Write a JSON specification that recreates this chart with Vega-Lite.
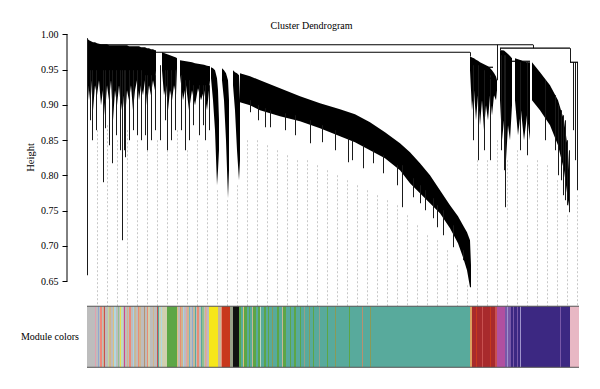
{
  "$schema": "https://vega.github.io/schema/vega-lite/v6.json",
  "width": 531,
  "height": 343,
  "autosize": {"type": "none"},
  "padding": {"left": 67, "top": 30, "right": 2, "bottom": 16},
  "background": "white",
  "config": {"view": {"stroke": null}},
  "title": {"text": "Cluster Dendrogram", "font": "Liberation Serif", "fontSize": 10, "fontWeight": "normal", "color": "black", "anchor": "middle", "dx": -21, "offset": -2},
  "datasets": {
    "guides": [
      {"x":10.5,"top":0.8640},{"x":20.5,"top":0.8711},{"x":30.5,"top":0.8498},{"x":40.5,"top":0.8640},{"x":50.5,"top":0.8498},
      {"x":60.5,"top":0.8356},{"x":70.5,"top":0.8498},{"x":80.5,"top":0.8356},{"x":90.5,"top":0.8640},{"x":100.5,"top":0.8356},
      {"x":110.5,"top":0.8498},{"x":120.5,"top":0.8356},{"x":130.5,"top":0.7789},{"x":140.5,"top":0.7648},{"x":150.5,"top":0.7860},
      {"x":160.5,"top":0.8498},{"x":170.5,"top":0.8498},{"x":180.5,"top":0.8427},{"x":190.5,"top":0.8356},{"x":200.5,"top":0.8285},
      {"x":210.5,"top":0.8215},{"x":220.5,"top":0.8215},{"x":230.5,"top":0.8144},{"x":240.5,"top":0.8073},{"x":250.5,"top":0.8002},
      {"x":260.5,"top":0.7931},{"x":270.5,"top":0.7860},{"x":280.5,"top":0.7789},{"x":290.5,"top":0.7719},{"x":300.5,"top":0.7648},
      {"x":310.5,"top":0.7577},{"x":320.5,"top":0.7435},{"x":330.5,"top":0.7293},{"x":340.5,"top":0.7152},{"x":350.5,"top":0.7081},
      {"x":360.5,"top":0.6939},{"x":370.5,"top":0.6727},{"x":380.5,"top":0.6443},{"x":390.5,"top":0.8215},{"x":400.5,"top":0.8215},
      {"x":410.5,"top":0.8498},{"x":420.5,"top":0.8215},{"x":430.5,"top":0.8356},{"x":440.5,"top":0.8144},{"x":450.5,"top":0.8215},
      {"x":460.5,"top":0.8144},{"x":470.5,"top":0.7931},{"x":480.5,"top":0.7435},{"x":490.5,"top":0.7719}
    ],
    "modules": [
      {"x":0,"x2":8,"module":"grey"},{"x":8,"x2":9,"module":"lightpink"},{"x":9,"x2":11,"module":"grey"},{"x":11,"x2":12,"module":"steelblue"},
      {"x":12,"x2":13,"module":"grey"},{"x":13,"x2":15,"module":"salmon"},{"x":15,"x2":16,"module":"grey"},{"x":16,"x2":17,"module":"tan"},
      {"x":17,"x2":18,"module":"indianred"},{"x":18,"x2":21,"module":"grey"},{"x":21,"x2":22,"module":"lightgreen"},{"x":22,"x2":24,"module":"tan"},
      {"x":24,"x2":26,"module":"grey"},{"x":26,"x2":27,"module":"burlywood"},{"x":27,"x2":29,"module":"lightcyan"},{"x":29,"x2":31,"module":"grey"},
      {"x":31,"x2":32,"module":"darkseagreen"},{"x":32,"x2":33,"module":"grey"},{"x":33,"x2":34,"module":"greenyellow"},{"x":34,"x2":36,"module":"honeydew"},
      {"x":36,"x2":37,"module":"grey"},{"x":37,"x2":38,"module":"violet"},{"x":38,"x2":40,"module":"grey"},{"x":40,"x2":41,"module":"tan"},
      {"x":41,"x2":42,"module":"grey"},{"x":42,"x2":44,"module":"salmon"},{"x":44,"x2":46,"module":"grey"},{"x":46,"x2":47,"module":"lightblue"},
      {"x":47,"x2":49,"module":"khaki"},{"x":49,"x2":51,"module":"grey"},{"x":51,"x2":52,"module":"coral"},{"x":52,"x2":54,"module":"tan"},
      {"x":54,"x2":57,"module":"grey"},{"x":57,"x2":58,"module":"sienna"},{"x":58,"x2":60,"module":"grey"},{"x":60,"x2":61,"module":"coral"},
      {"x":61,"x2":63,"module":"ivory"},{"x":63,"x2":66,"module":"grey"},{"x":66,"x2":67,"module":"tan"},{"x":67,"x2":70,"module":"grey"},
      {"x":70,"x2":71,"module":"indianred"},{"x":71,"x2":72,"module":"turquoise"},{"x":72,"x2":74,"module":"ivory"},{"x":74,"x2":75,"module":"lightcyan"},
      {"x":75,"x2":80,"module":"ivory"},{"x":80,"x2":90,"module":"green"},{"x":90,"x2":91,"module":"burlywood"},{"x":91,"x2":93,"module":"grey"},
      {"x":93,"x2":94,"module":"coral"},{"x":94,"x2":96,"module":"tan"},{"x":96,"x2":97,"module":"lightblue"},{"x":97,"x2":99,"module":"grey"},
      {"x":99,"x2":100,"module":"lightpink"},{"x":100,"x2":102,"module":"tan"},{"x":102,"x2":103,"module":"skyblue"},{"x":103,"x2":105,"module":"grey"},
      {"x":105,"x2":106,"module":"steelblue"},{"x":106,"x2":108,"module":"khaki"},{"x":108,"x2":109,"module":"turquoise"},{"x":109,"x2":110,"module":"grey"},
      {"x":110,"x2":112,"module":"coral"},{"x":112,"x2":114,"module":"grey"},{"x":114,"x2":115,"module":"turquoise"},{"x":115,"x2":117,"module":"darkseagreen"},
      {"x":117,"x2":118,"module":"grey"},{"x":118,"x2":119,"module":"tan"},{"x":119,"x2":120,"module":"lightpink"},{"x":120,"x2":122,"module":"grey"},
      {"x":122,"x2":131,"module":"yellow"},{"x":131,"x2":134,"module":"khaki"},{"x":134,"x2":135,"module":"coral"},{"x":135,"x2":143,"module":"red"},
      {"x":143,"x2":146,"module":"grey60"},{"x":146,"x2":152,"module":"black"},{"x":152,"x2":154,"module":"green"},{"x":154,"x2":156,"module":"turquoise"},
      {"x":156,"x2":157,"module":"burlywood"},{"x":157,"x2":160,"module":"green"},{"x":160,"x2":162,"module":"turquoise"},{"x":162,"x2":163,"module":"green"},
      {"x":163,"x2":165,"module":"turquoise"},{"x":165,"x2":166,"module":"khaki"},{"x":166,"x2":169,"module":"green"},{"x":169,"x2":171,"module":"turquoise"},
      {"x":171,"x2":173,"module":"green"},{"x":173,"x2":174,"module":"honeydew"},{"x":174,"x2":177,"module":"turquoise"},{"x":177,"x2":179,"module":"green"},
      {"x":179,"x2":181,"module":"turquoise"},{"x":181,"x2":182,"module":"green"},{"x":182,"x2":185,"module":"turquoise"},{"x":185,"x2":186,"module":"olive"},
      {"x":186,"x2":190,"module":"turquoise"},{"x":190,"x2":192,"module":"green"},{"x":192,"x2":195,"module":"turquoise"},{"x":195,"x2":196,"module":"khaki"},
      {"x":196,"x2":199,"module":"green"},{"x":199,"x2":203,"module":"turquoise"},{"x":203,"x2":204,"module":"green"},{"x":204,"x2":207,"module":"turquoise"},
      {"x":207,"x2":209,"module":"green"},{"x":209,"x2":213,"module":"turquoise"},{"x":213,"x2":214,"module":"green"},{"x":214,"x2":217,"module":"turquoise"},
      {"x":217,"x2":218,"module":"grey60"},{"x":218,"x2":222,"module":"turquoise"},{"x":222,"x2":223,"module":"olive"},{"x":223,"x2":226,"module":"turquoise"},
      {"x":226,"x2":227,"module":"green"},{"x":227,"x2":232,"module":"turquoise"},{"x":232,"x2":233,"module":"grey60"},{"x":233,"x2":240,"module":"turquoise"},
      {"x":240,"x2":241,"module":"green"},{"x":241,"x2":248,"module":"turquoise"},{"x":248,"x2":249,"module":"olive"},{"x":249,"x2":262,"module":"turquoise"},
      {"x":262,"x2":263,"module":"green"},{"x":263,"x2":275,"module":"turquoise"},{"x":275,"x2":276,"module":"sienna"},{"x":276,"x2":283,"module":"turquoise"},
      {"x":283,"x2":284,"module":"olive"},{"x":284,"x2":383,"module":"turquoise"},{"x":383,"x2":385,"module":"orange"},{"x":385,"x2":389,"module":"brown"},
      {"x":389,"x2":390,"module":"red"},{"x":390,"x2":395,"module":"brown"},{"x":395,"x2":396,"module":"indianred"},{"x":396,"x2":403,"module":"brown"},
      {"x":403,"x2":404,"module":"red"},{"x":404,"x2":408,"module":"brown"},{"x":408,"x2":410,"module":"indianred"},{"x":410,"x2":418,"module":"magenta"},
      {"x":418,"x2":420,"module":"purple"},{"x":420,"x2":421,"module":"mediumpurple"},{"x":421,"x2":424,"module":"purple"},{"x":424,"x2":426,"module":"blue"},
      {"x":426,"x2":427,"module":"purple"},{"x":427,"x2":430,"module":"blue"},{"x":430,"x2":431,"module":"purple"},{"x":431,"x2":433,"module":"blue"},
      {"x":433,"x2":434,"module":"mediumpurple"},{"x":434,"x2":473,"module":"blue"},{"x":473,"x2":474,"module":"purple"},{"x":474,"x2":483,"module":"blue"},
      {"x":483,"x2":492,"module":"pink"}
    ],
    "edges": [
      {"x":0,"x2":492,"y":0.6146},{"x":0,"x2":492,"y":0.5281}
    ],
    "blobs": [
      {"blob":"A","x":0,"top":0.9943,"bottom":0.9490},{"blob":"A","x":2,"top":0.9915,"bottom":0.9065},{"blob":"A","x":4,"top":0.9901,"bottom":0.9348},
      {"blob":"A","x":6,"top":0.9887,"bottom":0.8923},{"blob":"A","x":8,"top":0.9887,"bottom":0.9277},{"blob":"A","x":10,"top":0.9872,"bottom":0.9136},
      {"blob":"A","x":12,"top":0.9865,"bottom":0.9348},{"blob":"A","x":14,"top":0.9858,"bottom":0.8994},{"blob":"A","x":16,"top":0.9858,"bottom":0.9207},
      {"blob":"A","x":18,"top":0.9858,"bottom":0.8852},{"blob":"A","x":20,"top":0.9858,"bottom":0.9277},{"blob":"A","x":22,"top":0.9844,"bottom":0.9065},
      {"blob":"A","x":24,"top":0.9844,"bottom":0.9348},{"blob":"A","x":26,"top":0.9844,"bottom":0.8781},{"blob":"A","x":28,"top":0.9844,"bottom":0.9207},
      {"blob":"A","x":30,"top":0.9844,"bottom":0.8994},{"blob":"A","x":32,"top":0.9844,"bottom":0.9277},{"blob":"A","x":34,"top":0.9844,"bottom":0.8923},
      {"blob":"A","x":36,"top":0.9844,"bottom":0.9136},{"blob":"A","x":38,"top":0.9844,"bottom":0.8781},{"blob":"A","x":40,"top":0.9844,"bottom":0.9207},
      {"blob":"A","x":42,"top":0.9830,"bottom":0.9065},{"blob":"A","x":44,"top":0.9830,"bottom":0.9277},{"blob":"A","x":46,"top":0.9830,"bottom":0.8923},
      {"blob":"A","x":48,"top":0.9830,"bottom":0.9207},{"blob":"A","x":50,"top":0.9830,"bottom":0.9348},{"blob":"A","x":52,"top":0.9830,"bottom":0.9065},
      {"blob":"A","x":54,"top":0.9816,"bottom":0.9277},{"blob":"A","x":56,"top":0.9816,"bottom":0.9136},{"blob":"A","x":58,"top":0.9816,"bottom":0.9348},
      {"blob":"A","x":60,"top":0.9802,"bottom":0.8994},{"blob":"A","x":62,"top":0.9802,"bottom":0.9277},{"blob":"A","x":64,"top":0.9788,"bottom":0.9136},
      {"blob":"A","x":66,"top":0.9788,"bottom":0.9348},{"blob":"A","x":68,"top":0.9773,"bottom":0.9207},{"blob":"A","x":69,"top":0.9773,"bottom":0.9490},
      {"blob":"B","x":75,"top":0.9745,"bottom":0.9490},{"blob":"B","x":77,"top":0.9735,"bottom":0.9136},{"blob":"B","x":79,"top":0.9725,"bottom":0.9277},
      {"blob":"B","x":81,"top":0.9714,"bottom":0.8923},{"blob":"B","x":83,"top":0.9702,"bottom":0.9207},{"blob":"B","x":85,"top":0.9690,"bottom":0.9065},
      {"blob":"B","x":87,"top":0.9680,"bottom":0.9277},{"blob":"B","x":89,"top":0.9670,"bottom":0.9136},{"blob":"B","x":90,"top":0.9660,"bottom":0.9518},
      {"blob":"C","x":93,"top":0.9632,"bottom":0.9419},{"blob":"C","x":96,"top":0.9625,"bottom":0.9065},{"blob":"C","x":99,"top":0.9617,"bottom":0.9277},
      {"blob":"C","x":102,"top":0.9610,"bottom":0.8923},{"blob":"C","x":105,"top":0.9603,"bottom":0.9207},{"blob":"C","x":108,"top":0.9589,"bottom":0.8994},
      {"blob":"C","x":111,"top":0.9582,"bottom":0.9235},{"blob":"C","x":114,"top":0.9575,"bottom":0.9065},{"blob":"C","x":117,"top":0.9568,"bottom":0.9207},
      {"blob":"C","x":120,"top":0.9554,"bottom":0.8923},{"blob":"C","x":123,"top":0.9547,"bottom":0.9348},
      {"blob":"F1","x":124,"top":0.9532,"bottom":0.9377},{"blob":"F1","x":126,"top":0.9518,"bottom":0.9065},{"blob":"F1","x":128,"top":0.9490,"bottom":0.8640},
      {"blob":"F1","x":130,"top":0.9377,"bottom":0.7860},{"blob":"F1","x":131,"top":0.9207,"bottom":0.8073},{"blob":"F1","x":132,"top":0.8781,"bottom":0.8356},
      {"blob":"F2","x":135,"top":0.9518,"bottom":0.9348},{"blob":"F2","x":137,"top":0.9490,"bottom":0.9065},{"blob":"F2","x":139,"top":0.9447,"bottom":0.8498},
      {"blob":"F2","x":141,"top":0.9348,"bottom":0.7676},{"blob":"F2","x":142,"top":0.9065,"bottom":0.8073},
      {"blob":"F3","x":146,"top":0.9490,"bottom":0.9277},{"blob":"F3","x":148,"top":0.9462,"bottom":0.8923},{"blob":"F3","x":150,"top":0.9447,"bottom":0.8356},
      {"blob":"F3","x":152,"top":0.9419,"bottom":0.7931},{"blob":"F3","x":153,"top":0.9065,"bottom":0.8215},
      {"blob":"D","x":153,"top":0.9447,"bottom":0.9036},{"blob":"D","x":163,"top":0.9405,"bottom":0.8994},{"blob":"D","x":173,"top":0.9348,"bottom":0.8923},
      {"blob":"D","x":193,"top":0.9235,"bottom":0.8838},{"blob":"D","x":213,"top":0.9122,"bottom":0.8767},{"blob":"D","x":233,"top":0.9022,"bottom":0.8668},
      {"blob":"D","x":253,"top":0.8937,"bottom":0.8555},{"blob":"D","x":268,"top":0.8866,"bottom":0.8470},{"blob":"D","x":283,"top":0.8753,"bottom":0.8356},
      {"blob":"D","x":298,"top":0.8611,"bottom":0.8243},{"blob":"D","x":313,"top":0.8455,"bottom":0.8073},{"blob":"D","x":323,"top":0.8328,"bottom":0.7889},
      {"blob":"D","x":333,"top":0.8172,"bottom":0.7747},{"blob":"D","x":343,"top":0.8002,"bottom":0.7605},{"blob":"D","x":353,"top":0.7789,"bottom":0.7464},
      {"blob":"D","x":363,"top":0.7577,"bottom":0.7251},{"blob":"D","x":371,"top":0.7421,"bottom":0.7038},{"blob":"D","x":376,"top":0.7293,"bottom":0.6840},
      {"blob":"D","x":380,"top":0.7194,"bottom":0.6656},{"blob":"D","x":383,"top":0.7081,"bottom":0.6415},{"blob":"D","x":384,"top":0.6727,"bottom":0.6415},
      {"blob":"E","x":383,"top":0.9688,"bottom":0.9490},{"blob":"E","x":385,"top":0.9670,"bottom":0.8923},{"blob":"E","x":387,"top":0.9660,"bottom":0.9207},
      {"blob":"E","x":389,"top":0.9640,"bottom":0.8781},{"blob":"E","x":391,"top":0.9625,"bottom":0.9136},{"blob":"E","x":393,"top":0.9603,"bottom":0.8711},
      {"blob":"E","x":395,"top":0.9590,"bottom":0.9065},{"blob":"E","x":397,"top":0.9575,"bottom":0.8640},{"blob":"E","x":399,"top":0.9560,"bottom":0.8994},
      {"blob":"E","x":401,"top":0.9547,"bottom":0.8781},{"blob":"E","x":403,"top":0.9520,"bottom":0.9136},{"blob":"E","x":405,"top":0.9490,"bottom":0.8852},
      {"blob":"E","x":407,"top":0.9450,"bottom":0.9136},{"blob":"E","x":409,"top":0.9400,"bottom":0.9065},{"blob":"E","x":410,"top":0.9348,"bottom":0.9207},
      {"blob":"G1","x":413,"top":0.9773,"bottom":0.9065},{"blob":"G1","x":415,"top":0.9773,"bottom":0.8498},{"blob":"G1","x":417,"top":0.9770,"bottom":0.8781},
      {"blob":"G1","x":419,"top":0.9745,"bottom":0.8215},{"blob":"G1","x":421,"top":0.9720,"bottom":0.8711},{"blob":"G1","x":423,"top":0.9690,"bottom":0.8498},
      {"blob":"G1","x":425,"top":0.9660,"bottom":0.8994},
      {"blob":"G2","x":428,"top":0.9660,"bottom":0.9065},{"blob":"G2","x":431,"top":0.9645,"bottom":0.8569},{"blob":"G2","x":434,"top":0.9630,"bottom":0.8923},
      {"blob":"G2","x":437,"top":0.9610,"bottom":0.8498},{"blob":"G2","x":440,"top":0.9603,"bottom":0.8852},{"blob":"G2","x":443,"top":0.9603,"bottom":0.8498},
      {"blob":"G3","x":445,"top":0.9603,"bottom":0.9065},{"blob":"G3","x":453,"top":0.9462,"bottom":0.8923},{"blob":"G3","x":463,"top":0.9277,"bottom":0.8711},
      {"blob":"G3","x":471,"top":0.9065,"bottom":0.8427},{"blob":"G3","x":477,"top":0.8781,"bottom":0.8073},{"blob":"G3","x":481,"top":0.8356,"bottom":0.7648},
      {"blob":"G3","x":483,"top":0.7789,"bottom":0.7478}
    ],
    "stems": [
      {"x":0.5,"top":0.9943,"bottom":0.6585},{"x":3.5,"top":0.9490,"bottom":0.8781},{"x":5.5,"top":0.9490,"bottom":0.8498},{"x":9.5,"top":0.9490,"bottom":0.8640},
      {"x":16.5,"top":0.9490,"bottom":0.7903},{"x":18.5,"top":0.9490,"bottom":0.8668},{"x":22.5,"top":0.9490,"bottom":0.8427},{"x":25.5,"top":0.9490,"bottom":0.8172},
      {"x":29.5,"top":0.9490,"bottom":0.8569},{"x":33.5,"top":0.9490,"bottom":0.8356},{"x":35.5,"top":0.9490,"bottom":0.7081},{"x":37.5,"top":0.9490,"bottom":0.8356},
      {"x":38.5,"top":0.9490,"bottom":0.8257},{"x":42.5,"top":0.9490,"bottom":0.8498},{"x":46.5,"top":0.9490,"bottom":0.8640},{"x":50.5,"top":0.9490,"bottom":0.8569},
      {"x":54.5,"top":0.9490,"bottom":0.8498},{"x":58.5,"top":0.9419,"bottom":0.8569},{"x":60.5,"top":0.9419,"bottom":0.8356},{"x":64.5,"top":0.9419,"bottom":0.8498},
      {"x":68.5,"top":0.9419,"bottom":0.8640},{"x":73.5,"top":0.9561,"bottom":0.8498},{"x":78.5,"top":0.9490,"bottom":0.8781},{"x":80.5,"top":0.9490,"bottom":0.8356},
      {"x":84.5,"top":0.9490,"bottom":0.8498},{"x":88.5,"top":0.9490,"bottom":0.8640},{"x":94.5,"top":0.9419,"bottom":0.8640},{"x":98.5,"top":0.9348,"bottom":0.8356},
      {"x":102.5,"top":0.9348,"bottom":0.8498},{"x":106.5,"top":0.9277,"bottom":0.8711},{"x":112.5,"top":0.9277,"bottom":0.8569},{"x":116.5,"top":0.9277,"bottom":0.8711},
      {"x":118.5,"top":0.9277,"bottom":0.8498},{"x":122.5,"top":0.9277,"bottom":0.8640},
      {"x":163.5,"top":0.9065,"bottom":0.8895},{"x":171.5,"top":0.8994,"bottom":0.8781},{"x":178.5,"top":0.8951,"bottom":0.8682},{"x":183.5,"top":0.8923,"bottom":0.8682},
      {"x":198.5,"top":0.8880,"bottom":0.8640},{"x":208.5,"top":0.8852,"bottom":0.8569},{"x":223.5,"top":0.8781,"bottom":0.8455},{"x":235.5,"top":0.8711,"bottom":0.8470},
      {"x":248.5,"top":0.8640,"bottom":0.8356},{"x":261.5,"top":0.8526,"bottom":0.8186},{"x":265.5,"top":0.8498,"bottom":0.8215},{"x":276.5,"top":0.8427,"bottom":0.8101},
      {"x":286.5,"top":0.8356,"bottom":0.8172},{"x":296.5,"top":0.8285,"bottom":0.8030},{"x":310.5,"top":0.8144,"bottom":0.7860},{"x":315.5,"top":0.8144,"bottom":0.7549},
      {"x":326.5,"top":0.7960,"bottom":0.7690},{"x":333.5,"top":0.7860,"bottom":0.7605},{"x":338.5,"top":0.7789,"bottom":0.7506},{"x":346.5,"top":0.7676,"bottom":0.7393},
      {"x":350.5,"top":0.7577,"bottom":0.7265},{"x":356.5,"top":0.7506,"bottom":0.7152},{"x":366.5,"top":0.7293,"bottom":0.6982},{"x":376.5,"top":0.6939,"bottom":0.6798},
      {"x":386.5,"top":0.9561,"bottom":0.8498},{"x":391.5,"top":0.9561,"bottom":0.8215},{"x":397.5,"top":0.9490,"bottom":0.8356},{"x":403.5,"top":0.9419,"bottom":0.8215},
      {"x":414.5,"top":0.9702,"bottom":0.8356},{"x":417.5,"top":0.9702,"bottom":0.8073},{"x":418.5,"top":0.9702,"bottom":0.7549},{"x":433.5,"top":0.9603,"bottom":0.8356},
      {"x":440.5,"top":0.9603,"bottom":0.8285},{"x":458.5,"top":0.9348,"bottom":0.8498},{"x":468.5,"top":0.9136,"bottom":0.8356},{"x":471.5,"top":0.8994,"bottom":0.8002},
      {"x":474.5,"top":0.8923,"bottom":0.7931},{"x":476.5,"top":0.8852,"bottom":0.7719},{"x":478.5,"top":0.8781,"bottom":0.7648},{"x":480.5,"top":0.8498,"bottom":0.7577},
      {"x":482.5,"top":0.8356,"bottom":0.7478},{"x":486.5,"top":0.9603,"bottom":0.8640},{"x":488.5,"top":0.9603,"bottom":0.8215},{"x":490.5,"top":0.9603,"bottom":0.7789},
      {"x":446.5,"top":0.9851,"bottom":0.9802},{"x":483.5,"top":0.9802,"bottom":0.9603},{"x":413.5,"top":0.9802,"bottom":0.9773},
      {"x":383.5,"top":0.9745,"bottom":0.9688},{"x":410.5,"top":0.9851,"bottom":0.9348}
    ],
    "hmerges": [
      {"x":10,"x2":446,"y":0.9851},{"x":413,"x2":483,"y":0.9802},{"x":483,"x2":491,"y":0.9603},{"x":53,"x2":383,"y":0.9745},
      {"x":395,"x2":406,"y":0.9532},{"x":398,"x2":406,"y":0.9377},{"x":420,"x2":443,"y":0.9617}
    ]
  },
  "layer": [
    {
      "data": {"name": "guides"},
      "mark": {"type": "rule", "color": "#c8c8c8", "strokeWidth": 1, "strokeDash": [2, 2]},
      "encoding": {
        "x": {"field": "x", "type": "quantitative", "scale": {"domain": [-20, 511], "nice": false, "zero": false}, "axis": null},
        "y": {"field": "top", "type": "quantitative", "scale": {"domain": [0.52, 1.006], "nice": false, "zero": false},
              "axis": {"title": "Height", "values": [0.65, 0.7, 0.75, 0.8, 0.85, 0.9, 0.95, 1.0], "format": ".2f", "domain": false, "grid": false, "tickSize": 5, "tickColor": "black", "labelPadding": 4, "labelFont": "Liberation Serif", "labelFontSize": 10, "labelColor": "black", "titleFont": "Liberation Serif", "titleFontSize": 10.5, "titleFontWeight": "normal", "titleColor": "black", "titleX": -37, "titleY": 127, "titleAngle": 270, "titleBaseline": "middle", "titleAlign": "center"}},
        "y2": {"datum": 0.6146}
      }
    },
    {
      "data": {"name": "modules"},
      "mark": {"type": "rect"},
      "encoding": {
        "x": {"field": "x", "type": "quantitative", "axis": null},
        "x2": {"field": "x2"},
        "y": {"datum": 0.6146, "type": "quantitative",
              "axis": {"title": "Height", "values": [0.65, 0.7, 0.75, 0.8, 0.85, 0.9, 0.95, 1.0], "format": ".2f", "domain": false, "grid": false, "tickSize": 5, "tickColor": "black", "labelPadding": 4, "labelFont": "Liberation Serif", "labelFontSize": 10, "labelColor": "black", "titleFont": "Liberation Serif", "titleFontSize": 10.5, "titleFontWeight": "normal", "titleColor": "black", "titleX": -37, "titleY": 127, "titleAngle": 270, "titleBaseline": "middle", "titleAlign": "center"}},
        "y2": {"datum": 0.5281},
        "color": {"field": "module", "type": "nominal", "legend": null,
          "scale": {
            "domain": ["grey","lightpink","steelblue","salmon","tan","indianred","lightgreen","burlywood","lightcyan","darkseagreen","greenyellow","honeydew","violet","lightblue","khaki","coral","sienna","ivory","turquoise","green","skyblue","yellow","red","grey60","black","olive","orange","brown","magenta","purple","mediumpurple","blue","pink"],
            "range": ["#bdbdbd","#e0a0b0","#90a8d0","#f08878","#d2b48c","#c85050","#c0d8a0","#dcc080","#b0d8e0","#90c090","#e8e050","#c0d8c0","#d04888","#a8d0e8","#c8b898","#e88c74","#b89070","#d0d0b0","#58aa9c","#5ca646","#70b8c8","#f6e71a","#c8381c","#98a088","#111111","#8a9a58","#dca060","#a82a2c","#b050a0","#7858a8","#a094cc","#3c2882","#e8b8c4"]
          }}
      }
    },
    {
      "data": {"name": "edges"},
      "mark": {"type": "rule", "color": "#555555", "strokeWidth": 1},
      "encoding": {
        "x": {"field": "x", "type": "quantitative", "axis": null},
        "x2": {"field": "x2"},
        "y": {"field": "y", "type": "quantitative",
              "axis": {"title": "Height", "values": [0.65, 0.7, 0.75, 0.8, 0.85, 0.9, 0.95, 1.0], "format": ".2f", "domain": false, "grid": false, "tickSize": 5, "tickColor": "black", "labelPadding": 4, "labelFont": "Liberation Serif", "labelFontSize": 10, "labelColor": "black", "titleFont": "Liberation Serif", "titleFontSize": 10.5, "titleFontWeight": "normal", "titleColor": "black", "titleX": -37, "titleY": 127, "titleAngle": 270, "titleBaseline": "middle", "titleAlign": "center"}}
      }
    },
    {
      "data": {"name": "blobs"},
      "mark": {"type": "area", "color": "black", "interpolate": "linear"},
      "encoding": {
        "x": {"field": "x", "type": "quantitative", "axis": null},
        "y": {"field": "top", "type": "quantitative",
              "axis": {"title": "Height", "values": [0.65, 0.7, 0.75, 0.8, 0.85, 0.9, 0.95, 1.0], "format": ".2f", "domain": false, "grid": false, "tickSize": 5, "tickColor": "black", "labelPadding": 4, "labelFont": "Liberation Serif", "labelFontSize": 10, "labelColor": "black", "titleFont": "Liberation Serif", "titleFontSize": 10.5, "titleFontWeight": "normal", "titleColor": "black", "titleX": -37, "titleY": 127, "titleAngle": 270, "titleBaseline": "middle", "titleAlign": "center"}},
        "y2": {"field": "bottom"},
        "detail": {"field": "blob", "type": "nominal"}
      }
    },
    {
      "data": {"name": "stems"},
      "mark": {"type": "rule", "color": "#1a1a1a", "strokeWidth": 1},
      "encoding": {
        "x": {"field": "x", "type": "quantitative", "axis": null},
        "y": {"field": "top", "type": "quantitative",
              "axis": {"title": "Height", "values": [0.65, 0.7, 0.75, 0.8, 0.85, 0.9, 0.95, 1.0], "format": ".2f", "domain": false, "grid": false, "tickSize": 5, "tickColor": "black", "labelPadding": 4, "labelFont": "Liberation Serif", "labelFontSize": 10, "labelColor": "black", "titleFont": "Liberation Serif", "titleFontSize": 10.5, "titleFontWeight": "normal", "titleColor": "black", "titleX": -37, "titleY": 127, "titleAngle": 270, "titleBaseline": "middle", "titleAlign": "center"}},
        "y2": {"field": "bottom"}
      }
    },
    {
      "data": {"name": "hmerges"},
      "mark": {"type": "rule", "color": "black", "strokeWidth": 1.2},
      "encoding": {
        "x": {"field": "x", "type": "quantitative", "axis": null},
        "x2": {"field": "x2"},
        "y": {"field": "y", "type": "quantitative",
              "axis": {"title": "Height", "values": [0.65, 0.7, 0.75, 0.8, 0.85, 0.9, 0.95, 1.0], "format": ".2f", "domain": false, "grid": false, "tickSize": 5, "tickColor": "black", "labelPadding": 4, "labelFont": "Liberation Serif", "labelFontSize": 10, "labelColor": "black", "titleFont": "Liberation Serif", "titleFontSize": 10.5, "titleFontWeight": "normal", "titleColor": "black", "titleX": -37, "titleY": 127, "titleAngle": 270, "titleBaseline": "middle", "titleAlign": "center"}}
      }
    },
    {
      "data": {"values": [{"axis": "Height"}]},
      "mark": {"type": "rule", "color": "black", "strokeWidth": 1},
      "encoding": {
        "x": {"datum": -20, "type": "quantitative", "axis": null},
        "y": {"datum": 0.65, "type": "quantitative",
              "axis": {"title": "Height", "values": [0.65, 0.7, 0.75, 0.8, 0.85, 0.9, 0.95, 1.0], "format": ".2f", "domain": false, "grid": false, "tickSize": 5, "tickColor": "black", "labelPadding": 4, "labelFont": "Liberation Serif", "labelFontSize": 10, "labelColor": "black", "titleFont": "Liberation Serif", "titleFontSize": 10.5, "titleFontWeight": "normal", "titleColor": "black", "titleX": -37, "titleY": 127, "titleAngle": 270, "titleBaseline": "middle", "titleAlign": "center"}},
        "y2": {"datum": 1.0}
      }
    },
    {
      "data": {"values": [{"label": "Module colors"}]},
      "mark": {"type": "text", "font": "Liberation Serif", "fontSize": 10, "color": "black", "align": "right", "baseline": "middle"},
      "encoding": {
        "x": {"datum": -8, "type": "quantitative", "axis": null},
        "y": {"datum": 0.5714, "type": "quantitative",
              "axis": {"title": "Height", "values": [0.65, 0.7, 0.75, 0.8, 0.85, 0.9, 0.95, 1.0], "format": ".2f", "domain": false, "grid": false, "tickSize": 5, "tickColor": "black", "labelPadding": 4, "labelFont": "Liberation Serif", "labelFontSize": 10, "labelColor": "black", "titleFont": "Liberation Serif", "titleFontSize": 10.5, "titleFontWeight": "normal", "titleColor": "black", "titleX": -37, "titleY": 127, "titleAngle": 270, "titleBaseline": "middle", "titleAlign": "center"}},
        "text": {"field": "label"}
      }
    }
  ]
}
